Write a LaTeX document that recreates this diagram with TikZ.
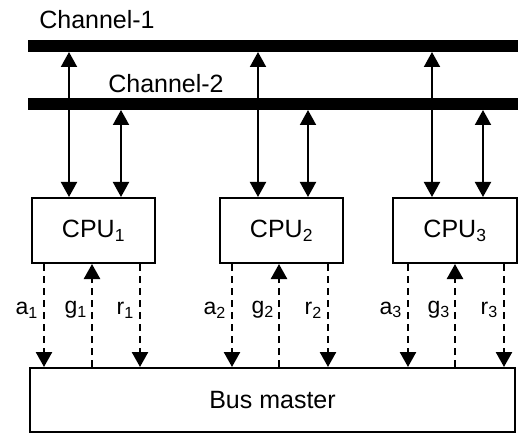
\documentclass[tikz,border=0pt]{standalone}
\usepackage{fontspec}
\setmainfont{Liberation Sans}
\usetikzlibrary{arrows.meta}
\begin{document}
\begin{tikzpicture}[x=1pt,y=-1pt,
  bar/.style={line width=12pt},
  box/.style={draw,line width=2pt,minimum height=65pt,inner sep=0pt},
  dbl/.style={line width=2pt,{Triangle[width=16pt,length=15pt]}-{Triangle[width=16pt,length=15pt]}},
  sig/.style={line width=2.5pt,dash pattern=on 7pt off 5pt,-{Triangle[width=16pt,length=15pt]}},
  lbl/.style={font=\fontsize{23}{27}\selectfont,anchor=east,inner sep=0pt},
  txt/.style={font=\fontsize{25}{30}\selectfont}]
\useasboundingbox (0,0) rectangle (520,433);
% channels
\coordinate (c1l) at (28,46); \coordinate (c1r) at (518,46);
\coordinate (c2l) at (28,104); \coordinate (c2r) at (518,104);
\draw[bar] (c1l) -- (c1r);
\draw[bar] (c2l) -- (c2r);
\node[txt] (t1) at (97,20) {Channel-1};
\node[txt] (t2) at (166,84) {Channel-2};
% CPUs
\node[box,minimum width=123pt,txt] (cpu1) at (93.5,230.5) {CPU\textsubscript{1}};
\node[box,minimum width=123pt,txt] (cpu2) at (281.5,230.5) {CPU\textsubscript{2}};
\node[box,minimum width=124pt,txt] (cpu3) at (455,230.5) {CPU\textsubscript{3}};
\node[box,minimum width=485pt,minimum height=64pt,txt] (bm) at (272.5,400) {Bus master};
% upper arrows
\foreach \c/\xa/\xb in {cpu1/69/121, cpu2/258/308, cpu3/432/483}{
  \coordinate (u\c a) at (\xa,52);
  \coordinate (u\c b) at (\xb,110);
  \draw[dbl] (u\c a) -- (\xa,197);
  \draw[dbl] (u\c b) -- (\xb,197);
}
% lower dashed
\foreach \i/\xa/\xg/\xr in {1/44/92/140, 2/232/279/328, 3/408/455/504}{
  \draw[sig] (\xa,264) -- (\xa,367);
  \draw[sig] (\xg,367) -- (\xg,264);
  \draw[sig] (\xr,264) -- (\xr,367);
  \node[lbl] (a\i) at (\xa-6,310) {a\textsubscript{\i}};
  \node[lbl] (g\i) at (\xg-5,310) {g\textsubscript{\i}};
  \node[lbl] (r\i) at (\xr-6,310) {r\textsubscript{\i}};
}
\end{tikzpicture}
\end{document}
